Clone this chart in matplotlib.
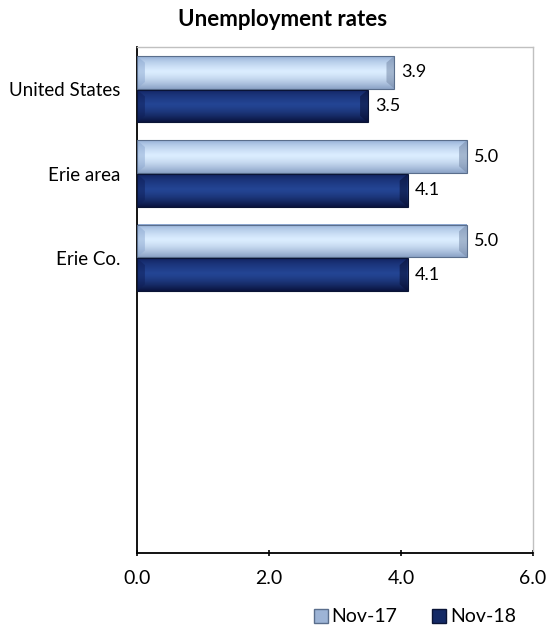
import matplotlib.pyplot as plt
import numpy as np
from matplotlib.patches import Rectangle, Polygon

plt.rcParams['font.family'] = ['Lato', 'DejaVu Sans']

categories = ['United States', 'Erie area', 'Erie Co.']
nov17 = [3.9, 5.0, 5.0]
nov18 = [3.5, 4.1, 4.1]
series_names = ['Nov-17', 'Nov-18']
xticks = [0.0, 2.0, 4.0, 6.0]

fig = plt.figure(figsize=(5.5, 6.3), dpi=100)
ax = fig.add_axes([137 / 550, 1 - 553 / 630, 396 / 550, 506 / 630])

# gradient colours: top edge -> centre -> bottom edge
light = [(0.55, 0.66, 0.82), (0.86, 0.93, 1.00), (0.55, 0.64, 0.78)]
dark = [(0.06, 0.12, 0.35), (0.14, 0.27, 0.58), (0.04, 0.08, 0.25)]


def grad(cols, n=40):
    t = np.linspace(0, 1, n)
    a, b, c = [np.array(x) for x in cols]
    out = []
    for v in t:
        if v < 0.45:
            out.append(a + (b - a) * (v / 0.45) ** 0.6)
        else:
            out.append(b + (c - b) * ((v - 0.45) / 0.55) ** 1.5)
    return np.array(out)[:, None, :]


h = 0.39
for i, cat in enumerate(categories):
    for val, off, cols, edge in [(nov17[i], -0.2, light, '#5a6e8c'),
                                 (nov18[i], 0.2, dark, '#0a1436')]:
        y0 = i + off - h / 2
        ax.imshow(grad(cols), extent=(0, val, y0 + h, y0), aspect='auto', zorder=2,
                  interpolation='bilinear')
        # bevelled ends
        d = 0.12
        endc = tuple(np.array(cols[2]) * 0.85)
        ax.add_patch(Polygon([(val - d, y0 + 0.08), (val, y0), (val, y0 + h),
                              (val - d, y0 + h - 0.08)], closed=True,
                             facecolor=endc, edgecolor='none', alpha=0.55, zorder=3))
        ax.add_patch(Polygon([(d, y0 + 0.08), (0, y0), (0, y0 + h),
                              (d, y0 + h - 0.08)], closed=True,
                             facecolor=cols[0], edgecolor='none', alpha=0.5, zorder=3))
        ax.add_patch(Rectangle((0, y0), val, h, fill=False, edgecolor=edge,
                               linewidth=0.8, zorder=4))
        ax.text(val + 0.11, i + off, f'{val:.1f}', va='center', ha='left',
                fontsize=13, zorder=5)

ax.set_xlim(0, 6)
ax.set_ylim(5.5, -0.5)
ax.set_xticks(xticks)
ax.set_xticklabels([f'{x:.1f}' for x in xticks], fontsize=14)
ax.set_yticks(range(len(categories)))
ax.set_yticklabels(categories, fontsize=13.5)
ax.tick_params(axis='y', length=0, pad=12)
ax.tick_params(axis='x', length=4, direction='inout', width=1.2, pad=10)
for s in ['top', 'right']:
    ax.spines[s].set_color('#c0c0c0')
    ax.spines[s].set_linewidth(1)
ax.spines['left'].set_linewidth(1.3)
ax.spines['bottom'].set_linewidth(1.3)

fig.text(283 / 550, 1 - 20 / 630, 'Unemployment rates', ha='center', va='center',
         fontsize=16, fontweight='bold')

h1 = Rectangle((0, 0), 1, 1, facecolor='#9db4d6', edgecolor='#5a6e8c')
h2 = Rectangle((0, 0), 1, 1, facecolor='#142a66', edgecolor='#0a1436')
fig.legend([h1, h2], series_names, loc='center', bbox_to_anchor=(415 / 550, 1 - 617 / 630),
           ncol=2, frameon=False, fontsize=14, handlelength=0.7, handleheight=0.7,
           handletextpad=0.2, columnspacing=1.8)

fig.savefig('out.png', dpi=100)
